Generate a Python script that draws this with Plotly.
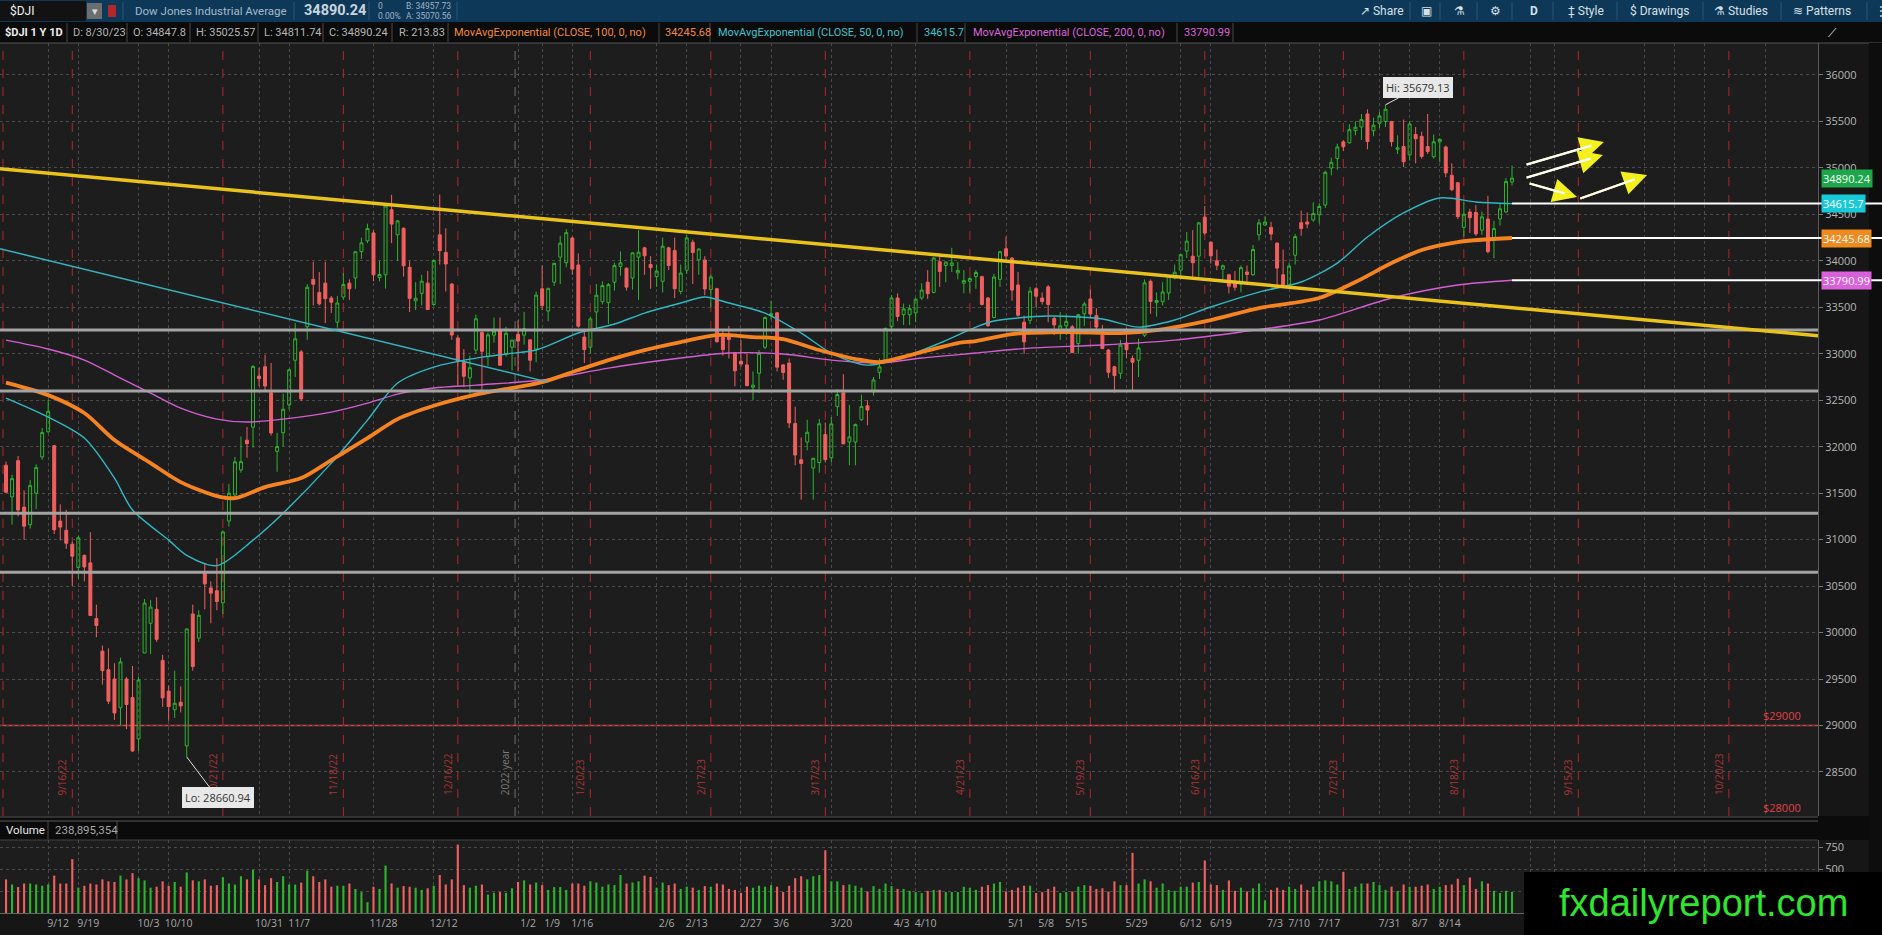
import pandas as pd
import plotly.graph_objects as go

# =========================
# DATA  ($DJI daily, 8/31/22 .. 8/30/23)
# =========================
HOLIDAYS = ["2022-09-05", "2022-11-24", "2022-12-26", "2023-01-02", "2023-01-16",
            "2023-02-20", "2023-04-07", "2023-05-29", "2023-06-19", "2023-07-04",
            "2023-09-04"]

dates = pd.bdate_range("2022-08-31", "2023-08-30", freq="C", holidays=HOLIDAYS)

opens = [
    31800,
    31460, 31850, 31350, 31160, 31500, 31890, 32160, 32010, 31200, 31100, 30950, 30700, 30830, 30750, 30150, 29800, 29600, 29500, 29190, 29500, 29300,
    28856, 29780, 30100, 30250, 29700, 29370, 29170, 29250, 28780, 30200, 29940, 30650, 30480, 30450, 30320, 31200, 31480, 31750, 32070, 32210, 32760,
    32860, 32580, 31950, 32150, 32450, 32930, 33020, 33290, 33800, 33660, 33760, 33600, 33340, 33610, 33760, 33815, 34100, 34215, 34300, 33820, 33850,
    34550, 34280, 34350, 33930, 33570, 33650, 33760, 33530, 34280, 34090, 33750, 33170, 32910, 32740, 33040, 33230, 32970, 33200, 33250, 33000, 33070,
    33210, 33200, 33150, 33050, 33700, 33460, 33770, 34040, 33980, 34245, 33955, 33180, 33070, 33450, 33560, 33550, 33770, 33940, 33920, 33815,
    34040, 34140, 33960, 33830, 33780, 34140, 34110, 33670, 33900, 34200, 34010, 34010, 33690, 33700, 33180, 33180, 33010, 32920, 32880,
    32640, 32790, 33070, 33410, 33440, 32880, 32900, 32250, 31860, 32050, 31770, 31830, 32130, 31880, 32430, 32580, 32050, 32050, 32290, 32440, 32590, 32800, 32930,
    33290, 33600, 33420, 33420, 33440, 33600, 33770, 33660, 33990, 33950, 33950, 33870, 33760, 33780, 33830, 33830, 33600, 33390, 33800,
    34130, 34030, 33740, 33340, 33360, 33700, 33600, 33720, 33380, 33260, 33300, 33290, 33110, 33430, 33590, 33410, 33200, 33040, 32860, 32790, 33115, 32950,
    32930, 33200, 33780, 33550, 33560, 33654, 33815, 33900, 34105, 34050, 34050, 34470, 34200, 34000, 33910, 33850, 33760, 33750, 33880, 33850, 34280,
    34385, 34360, 34190, 33850, 33740, 34060, 34410, 34418, 34440, 34495, 34600, 34999, 35100, 35280, 35270, 35400, 35440, 35580, 35400, 35480,
    35500, 35500, 35200, 35230, 35140, 35360, 35340, 35230, 35120, 35280, 35225, 34920, 34840, 34360, 34525, 34520, 34330, 34450, 34220, 34450, 34525, 34847.8,
]
highs = [
    31840,
    31700, 31900, 31530, 31640, 31810, 32200, 32505, 32020, 31380, 31320, 30980, 31040, 30840, 31080, 30300, 29860, 29830, 29670, 29730, 29520, 29640,
    29525, 30360, 30350, 30380, 29760, 29430, 29590, 29420, 30040, 30300, 30240, 30750, 30550, 30800, 31100, 31600, 31890, 32110, 32210, 32880, 32850,
    32990, 32900, 32150, 32570, 32840, 33330, 33040, 33750, 33990, 33880, 33990, 33620, 33620, 33870, 33800, 34100, 34250, 34400, 34330, 34000, 34600,
    34710, 34440, 34360, 34000, 33770, 33850, 33890, 34010, 34712, 34350, 33760, 33200, 33050, 32980, 33420, 33240, 33230, 33390, 33390, 33290, 33150,
    33360, 33450, 33150, 33670, 33950, 33710, 33980, 34270, 34340, 34260, 34080, 33250, 33400, 33750, 33780, 33760, 33980, 34100, 33930, 34090,
    34330, 34150, 34050, 33960, 34250, 34150, 34250, 33960, 34280, 34230, 34130, 34050, 33850, 33710, 33260, 33300, 33020, 33150, 33000,
    32810, 33040, 33400, 33570, 33450, 32890, 32950, 32430, 32100, 32290, 31880, 32300, 32260, 32320, 32620, 32780, 32450, 32250, 32560, 32500, 32750, 32950, 33280,
    33630, 33650, 33540, 33530, 33600, 33760, 33900, 34040, 34080, 33990, 34140, 33990, 33900, 33830, 33900, 33840, 33610, 33860, 34110,
    34260, 34040, 33880, 33410, 33720, 33720, 33660, 33740, 33400, 33450, 33420, 33310, 33430, 33560, 33690, 33490, 33310, 33050, 32870, 33150, 33280, 32980,
    33160, 33800, 33800, 33660, 33770, 33840, 33960, 34070, 34310, 34330, 34420, 34590, 34210, 34120, 33960, 33860, 33890, 33950, 33950, 34170, 34450,
    34480, 34420, 34200, 34120, 33980, 34290, 34540, 34520, 34630, 34620, 34970, 35110, 35260, 35300, 35470, 35500, 35580, 35630, 35540, 35600,
    35679.13, 35500, 35350, 35520, 35500, 35440, 35390, 35580, 35360, 35320, 35240, 35050, 34850, 34630, 34560, 34600, 34530, 34700, 34430, 34620, 34890, 35025.57,
]
lows = [
    31500,
    31160, 31250, 31000, 31120, 31330, 31860, 32150, 31060, 30990, 30900, 30500, 30580, 30550, 30180, 29950, 29440, 29230, 29060, 29000, 28960, 28715,
    28725, 29780, 29770, 29900, 29200, 29050, 29080, 29140, 28660.94, 29590, 29900, 30250, 30100, 30240, 30200, 31140, 31440, 31720, 31880, 31990, 32650,
    32600, 32120, 31730, 32000, 32400, 32750, 32490, 33150, 33520, 33520, 33330, 33440, 33280, 33580, 33580, 33700, 34020, 34190, 33780, 33780, 33700,
    34190, 34000, 33830, 33450, 33470, 33520, 33470, 33510, 33960, 33670, 33150, 32650, 32640, 32570, 33000, 32580, 32870, 33120, 32870, 32970, 32820,
    32810, 33100, 32810, 32910, 33470, 33350, 33730, 33750, 33930, 33850, 33280, 32900, 33000, 33250, 33530, 33320, 33680, 33840, 33680, 33690,
    33580, 33850, 33700, 33720, 33660, 33900, 33600, 33640, 33860, 33750, 33850, 33630, 33500, 33120, 32980, 32950, 32650, 32860, 32650,
    32500, 32580, 33050, 33370, 32810, 32720, 32200, 31800, 31430, 31960, 31430, 31720, 31830, 31830, 32330, 32030, 31800, 31800, 32280, 32230, 32550, 32730, 32920,
    33250, 33350, 33310, 33310, 33340, 33580, 33590, 33650, 33720, 33770, 33880, 33800, 33650, 33660, 33700, 33520, 33290, 33380, 33720,
    34010, 33570, 33400, 33000, 33320, 33500, 33530, 33340, 33200, 33150, 33200, 33010, 33000, 33300, 33380, 33250, 33050, 32740, 32580, 32730, 32950, 32590,
    32750, 33180, 33430, 33400, 33520, 33580, 33800, 33800, 34030, 33800, 33830, 34280, 33970, 33900, 33770, 33650, 33680, 33660, 33760, 33840, 34220,
    34380, 34220, 33700, 33730, 33710, 33960, 34270, 34350, 34420, 34400, 34570, 34920, 34980, 35180, 35260, 35350, 35300, 35200, 35340, 35430,
    35440, 35230, 35150, 35010, 35080, 35050, 35100, 35150, 35100, 35060, 34900, 34750, 34450, 34260, 34300, 34270, 34280, 34080, 34030, 34380, 34520, 34811.74,
]
closes = [
    31510,
    31656, 31318, 31145, 31581, 31775, 32152, 32381, 31105, 31135, 30961, 30822, 31020, 30706, 30184, 30077, 29590, 29261, 29135, 29684, 29226, 28726,
    29490, 30317, 30274, 29927, 29297, 29203, 29239, 29211, 30039, 29635, 30186, 30524, 30424, 30334, 31083, 31500, 31837, 31839, 32033, 32862, 32733,
    32653, 32148, 32001, 32403, 32827, 33161, 32514, 33715, 33748, 33537, 33593, 33554, 33546, 33746, 33700, 34098, 34194, 34347, 33849, 33853, 34590,
    34395, 34430, 33947, 33596, 33598, 33781, 33476, 34005, 34109, 33966, 33202, 32920, 32758, 32850, 33376, 33027, 33204, 33242, 32876, 33221, 33147,
    33136, 33270, 32930, 33631, 33518, 33704, 33973, 34190, 34303, 33911, 33297, 33045, 33375, 33630, 33734, 33744, 33949, 33978, 33717, 34086,
    34093, 34054, 33926, 33891, 34157, 33949, 33700, 33869, 34246, 34089, 34128, 33697, 33827, 33130, 33045, 33154, 32817, 32889, 32657,
    32662, 33004, 33391, 33431, 32856, 32798, 32255, 31910, 31819, 32155, 31875, 32247, 31862, 32245, 32561, 32030, 32105, 32238, 32432, 32394, 32718, 32859, 33274,
    33601, 33402, 33483, 33485, 33587, 33685, 33647, 34030, 33886, 33987, 33977, 33897, 33787, 33809, 33875, 33531, 33302, 33826, 34098,
    34052, 33685, 33414, 33128, 33674, 33619, 33562, 33531, 33310, 33301, 33349, 33012, 33421, 33536, 33427, 33287, 33056, 32800, 32765, 33093, 33043, 32908,
    33062, 33763, 33563, 33573, 33665, 33834, 33877, 34066, 34212, 33979, 34408, 34299, 34054, 33952, 33947, 33727, 33715, 33927, 33853, 34122, 34408,
    34418, 34289, 33922, 33735, 33944, 34261, 34347, 34395, 34509, 34585, 34952, 35061, 35225, 35228, 35411, 35438, 35520, 35283, 35459, 35560,
    35631, 35283, 35216, 35066, 35473, 35314, 35123, 35176, 35281, 35308, 34946, 34766, 34475, 34501, 34464, 34289, 34473, 34099, 34347, 34560, 34853, 34890.24,
]
# volume in millions of shares
volume = [
    382,
    324, 295, 335, 335, 324, 310, 324, 425, 335, 335, 612, 288, 310, 335, 324, 382, 360, 353, 425, 382, 454,
    396, 371, 288, 299, 360, 310, 353, 299, 461, 371, 360, 382, 310, 317, 407, 335, 324, 418, 382, 490, 382,
    317, 396, 353, 418, 324, 324, 346, 482, 418, 353, 382, 299, 310, 310, 335, 274, 238, 122, 299, 274, 540,
    335, 288, 306, 299, 288, 263, 281, 310, 432, 324, 382, 778, 317, 288, 310, 324, 209, 230, 238, 230, 281,
    353, 371, 324, 346, 317, 263, 295, 295, 263, 335, 335, 310, 360, 346, 299, 324, 317, 432, 335, 346,
    360, 425, 410, 288, 346, 317, 335, 274, 299, 288, 263, 306, 299, 335, 324, 274, 263, 230, 299,
    288, 310, 299, 317, 299, 238, 310, 396, 418, 382, 418, 432, 713, 360, 360, 317, 324, 310, 288, 245, 306, 274, 335,
    306, 274, 274, 252, 238, 227, 252, 263, 263, 238, 238, 238, 299, 288, 263, 299, 317, 335, 353,
    245, 263, 288, 310, 310, 227, 238, 274, 299, 227, 238, 245, 299, 317, 310, 274, 281, 245, 360, 317, 317, 684,
    335, 382, 360, 288, 335, 263, 252, 299, 299, 346, 353, 598, 324, 317, 263, 371, 252, 288, 245, 281, 335,
    144, 263, 288, 263, 299, 274, 324, 263, 299, 360, 371, 360, 324, 468, 274, 299, 335, 335, 353, 317,
    263, 299, 252, 324, 299, 299, 310, 324, 274, 299, 317, 324, 389, 317, 403, 274, 360, 335, 252, 227, 252, 238.9,
]
assert len(dates) == len(opens) == len(highs) == len(lows) == len(closes) == len(volume)

# moving averages
ema50_dates = ["2022-08-31", "2022-09-12", "2022-09-20", "2022-09-27", "2022-09-30", "2022-10-10",
               "2022-10-13", "2022-10-20", "2022-10-28", "2022-11-04", "2022-11-16", "2022-11-25",
               "2022-12-02", "2022-12-12", "2022-12-22", "2022-12-29", "2023-01-06", "2023-01-18",
               "2023-01-26", "2023-02-02", "2023-02-10", "2023-02-16", "2023-02-23", "2023-03-03",
               "2023-03-13", "2023-03-20", "2023-03-28", "2023-04-05", "2023-04-14", "2023-04-24",
               "2023-04-27", "2023-05-10", "2023-05-23", "2023-06-01", "2023-06-09", "2023-06-20",
               "2023-06-30", "2023-07-12", "2023-07-20", "2023-07-27", "2023-08-04", "2023-08-14",
               "2023-08-22", "2023-08-30"]
ema50_vals = [32523, 32319, 32093, 31662, 31318, 30995,
              30830, 30720, 30995, 31285, 31823, 32286,
              32685, 32857, 32964, 32997, 33040, 33223,
              33320, 33438, 33546, 33610, 33546, 33438,
              33223, 33008, 32878, 32964, 33115, 33287,
              33352, 33406, 33374, 33287, 33363, 33503,
              33664, 33772, 33976, 34256, 34515, 34676,
              34633, 34615.7]

ema100_dates = ["2022-08-31", "2022-09-12", "2022-09-20", "2022-09-27", "2022-10-05", "2022-10-12",
                "2022-10-20", "2022-10-25", "2022-11-01", "2022-11-09", "2022-11-16", "2022-11-25",
                "2022-12-02", "2022-12-12", "2022-12-21", "2023-01-09", "2023-01-18", "2023-01-25",
                "2023-02-02", "2023-02-10", "2023-02-21", "2023-03-01", "2023-03-08", "2023-03-16",
                "2023-03-24", "2023-03-30", "2023-04-11", "2023-04-19", "2023-04-24", "2023-05-02",
                "2023-05-15", "2023-05-26", "2023-06-06", "2023-06-20", "2023-06-30", "2023-07-17",
                "2023-07-25", "2023-08-02", "2023-08-09", "2023-08-17", "2023-08-30"]
ema100_vals = [32690, 32555, 32362, 32071, 31823, 31619,
               31468, 31447, 31565, 31662, 31856, 32093,
               32297, 32440, 32560, 32695, 32825, 32932,
               33040, 33126, 33201, 33180, 33158, 33040,
               32943, 32911, 33018, 33115, 33137, 33212,
               33234, 33223, 33255, 33363, 33492, 33600,
               33772, 33976, 34116, 34202, 34245.68]

ema200_dates = ["2022-08-31", "2022-09-12", "2022-09-20", "2022-09-27", "2022-10-05", "2022-10-12",
                "2022-10-20", "2022-10-27", "2022-11-04", "2022-11-16", "2022-11-25", "2022-12-02",
                "2022-12-12", "2022-12-21", "2023-01-09", "2023-01-25", "2023-02-10", "2023-02-23",
                "2023-03-08", "2023-03-20", "2023-03-30", "2023-04-11", "2023-04-24", "2023-05-05",
                "2023-05-23", "2023-06-09", "2023-06-27", "2023-07-17", "2023-08-02", "2023-08-17",
                "2023-08-30"]
ema200_vals = [33147, 33051, 32932, 32771, 32577, 32415,
               32297, 32265, 32297, 32372, 32469, 32566,
               32631, 32663, 32717, 32846, 32954, 33008,
               32997, 32932, 32900, 32954, 33008, 33061,
               33094, 33147, 33234, 33363, 33600, 33740,
               33790.99]

# hand drawings on the chart
yellow_trend_x = ["2022-08-30", "2023-11-09 19:00"]
yellow_trend_y = [34990, 33194]
cyan_trend_x = ["2022-08-30", "2023-01-10"]
cyan_trend_y = [34130, 32695]
grey_levels = [33255, 32600, 31285, 30650]
ray_levels = [34615.7, 34245.68, 33790.99]
arrow_tail_x = ["2023-09-01 04:00", "2023-09-01 04:00", "2023-09-01 16:00", "2023-09-15 02:00"]
arrow_tail_y = [35031, 34891, 34837, 34665]
arrow_head_x = ["2023-09-21 06:00", "2023-09-21 02:00", "2023-09-14 19:00", "2023-10-02 10:00"]
arrow_head_y = [35279, 35139, 34687, 34924]

expiry_dates = ["2022-09-16", "2022-10-21", "2022-11-18", "2022-12-16", "2023-01-20", "2023-02-17",
                "2023-03-17", "2023-04-21", "2023-05-19", "2023-06-16", "2023-07-21", "2023-08-18",
                "2023-09-15", "2023-10-20"]
expiry_labels = ["9/16/22", "10/21/22", "11/18/22", "12/16/22", "1/20/23", "2/17/23",
                 "3/17/23", "4/21/23", "5/19/23", "6/16/23", "7/21/23", "8/18/23",
                 "9/15/23", "10/20/23"]

tick_dates = ["2022-09-12", "2022-09-19", "2022-10-03", "2022-10-10", "2022-10-31", "2022-11-07",
              "2022-11-28", "2022-12-12", "2023-01-03", "2023-01-09", "2023-01-17", "2023-02-06",
              "2023-02-13", "2023-02-27", "2023-03-06", "2023-03-20", "2023-04-03", "2023-04-10",
              "2023-05-01", "2023-05-08", "2023-05-15", "2023-05-30", "2023-06-12", "2023-06-20",
              "2023-07-03", "2023-07-10", "2023-07-17", "2023-07-31", "2023-08-07", "2023-08-14",
              "2023-09-05", "2023-09-11", "2023-10-02", "2023-10-09", "2023-10-16", "2023-10-30"]
tick_text = ["9/12", "9/19", "10/3", "10/10", "10/31", "11/7",
             "11/28", "12/12", "1/2", "1/9", "1/16", "2/6",
             "2/13", "2/27", "3/6", "3/20", "4/3", "4/10",
             "5/1", "5/8", "5/15", "5/29", "6/12", "6/19",
             "7/3", "7/10", "7/17", "7/31", "8/7", "8/14",
             "", "", "", "", "", ""]

# =========================
# STYLE / LAYOUT HELPERS
# =========================
FIG_W, FIG_H = 1882, 935
PLOT_W = 1818
X_START, X_END = "2022-08-30", "2023-11-09 19:00"
PRICE_DOM = [1 - 816 / FIG_H, 1 - 43 / FIG_H]
VOL_DOM = [1 - 913 / FIG_H, 1 - 840 / FIG_H]

GREEN = "#2cb52c"
RED = "#f0605e"
GRID = "#4a4a4a"
FONT = "Open Sans, Roboto, sans-serif"
NARROW = "Roboto, sans-serif"

shapes = []
annotations = []


def px(x):
    return x / PLOT_W


def py(y):
    return 1 - y / FIG_H


def rect(x0, y0, x1, y1, color, layer="below"):
    shapes.append(dict(type="rect", xref="paper", yref="paper", x0=px(x0), x1=px(x1),
                       y0=py(y1), y1=py(y0), fillcolor=color, line_width=0, layer=layer))


def sep(x, y0, y1, color):
    shapes.append(dict(type="line", xref="paper", yref="paper", x0=px(x), x1=px(x),
                       y0=py(y0), y1=py(y1), line=dict(color=color, width=1), layer="below"))


def hline(y, x0, x1, color, width=1):
    shapes.append(dict(type="line", xref="paper", yref="paper", x0=px(x0), x1=px(x1),
                       y0=py(y), y1=py(y), line=dict(color=color, width=width), layer="below"))


def label(x, y, s, size=12, color="#cccccc", family=FONT, anchor="left"):
    annotations.append(dict(xref="paper", yref="paper", x=px(x), y=py(y), text=s, showarrow=False,
                            xanchor=anchor, yanchor="middle",
                            font=dict(size=size, color=color, family=family)))


def fmt(v):
    return f"{v:.2f}".rstrip("0").rstrip(".")


# =========================
# FIGURE
# =========================
fig = go.Figure()

fig.add_trace(go.Candlestick(
    x=dates, open=opens, high=highs, low=lows, close=closes,
    increasing=dict(line=dict(color=GREEN, width=1), fillcolor="rgba(0,0,0,0)"),
    decreasing=dict(line=dict(color=RED, width=1), fillcolor=RED),
    whiskerwidth=0, hoverinfo="skip", showlegend=False, xaxis="x", yaxis="y"))

for xs, ys, color, width in [(ema200_dates, ema200_vals, "#d25fd2", 1.4),
                             (ema50_dates, ema50_vals, "#2fb8c4", 1.4),
                             (ema100_dates, ema100_vals, "#f5831f", 3.8)]:
    fig.add_trace(go.Scatter(x=xs, y=ys, mode="lines", hoverinfo="skip", showlegend=False,
                             line=dict(color=color, width=width, shape="spline", smoothing=0.8),
                             xaxis="x", yaxis="y"))

vol_colors = [GREEN if c >= o else RED for o, c in zip(opens, closes)]
fig.add_trace(go.Bar(x=dates, y=volume, marker=dict(color=vol_colors, line_width=0),
                     width=0.35 * 86400000, hoverinfo="skip", showlegend=False,
                     xaxis="x2", yaxis="y2"))

# ---- chart drawings ----
for d in expiry_dates:
    shapes.append(dict(type="line", xref="x", yref="paper", x0=d, x1=d, y0=PRICE_DOM[0], y1=PRICE_DOM[1],
                       line=dict(color="#b3262b", width=1, dash="dash"), layer="between"))
for d, t in zip(expiry_dates, expiry_labels):
    annotations.append(dict(x=d, y=28228, xref="x", yref="y", text=t, textangle=-90, showarrow=False,
                            xanchor="right", yanchor="bottom", xshift=-1,
                            font=dict(size=10, color="#a8353a", family=FONT)))
shapes.append(dict(type="line", xref="x", yref="paper", x0="2022-08-30 12:00", x1="2022-08-30 12:00",
                   y0=PRICE_DOM[0], y1=PRICE_DOM[1], line=dict(color="#b3262b", width=1, dash="dash"),
                   layer="between"))
shapes.append(dict(type="line", xref="x", yref="paper", x0="2022-12-30 12:00", x1="2022-12-30 12:00",
                   y0=PRICE_DOM[0], y1=PRICE_DOM[1], line=dict(color="#6e6e6e", width=1, dash="dash"),
                   layer="between"))
annotations.append(dict(x="2022-12-30 12:00", y=28228, xref="x", yref="y", text="2022 year", textangle=-90,
                        showarrow=False, xanchor="right", yanchor="bottom", xshift=-1,
                        font=dict(size=10, color="#7a7a7a", family=FONT)))

shapes.append(dict(type="line", xref="paper", yref="y", x0=0, x1=1, y0=29000, y1=29000,
                   line=dict(color="#e0404a", width=1.5), layer="between"))
for lvl in grey_levels:
    shapes.append(dict(type="line", xref="paper", yref="y", x0=0, x1=1, y0=lvl, y1=lvl,
                       line=dict(color="#a3a3a3", width=3), layer="above"))
shapes.append(dict(type="line", xref="x", yref="y", x0=cyan_trend_x[0], x1=cyan_trend_x[1],
                   y0=cyan_trend_y[0], y1=cyan_trend_y[1], line=dict(color="#36b3bf", width=1.5),
                   layer="above"))
shapes.append(dict(type="line", xref="x", yref="y", x0=yellow_trend_x[0], x1=yellow_trend_x[1],
                   y0=yellow_trend_y[0], y1=yellow_trend_y[1], line=dict(color="#e9c21c", width=3.5),
                   layer="above"))
for lvl in ray_levels:
    shapes.append(dict(type="line", xref="x", yref="y", x0=dates[-1], x1=X_END, y0=lvl, y1=lvl,
                       line=dict(color="#ffffff", width=2), layer="above"))
    # the rays run on across the price scale to the window edge
    shapes.append(dict(type="line", xref="paper", yref="y", x0=1, x1=px(FIG_W), y0=lvl, y1=lvl,
                       line=dict(color="#ffffff", width=2), layer="above"))

for tx, ty, hx, hy in zip(arrow_tail_x, arrow_tail_y, arrow_head_x, arrow_head_y):
    annotations.append(dict(x=hx, y=hy, ax=tx, ay=ty, xref="x", yref="y", axref="x", ayref="y",
                            text="", showarrow=True, arrowhead=2, arrowsize=2.4, arrowwidth=2,
                            arrowcolor="#f4f01e"))
    annotations.append(dict(x=hx, y=hy, ax=tx, ay=ty, xref="x", yref="y", axref="x", ayref="y",
                            text="", showarrow=True, arrowhead=0, arrowwidth=2.2, standoff=13,
                            arrowcolor="#ffffff"))

i_hi = highs.index(max(highs))
i_lo = lows.index(min(lows))
annotations.append(dict(x=dates[i_hi], y=highs[i_hi], xref="x", yref="y", text=f"Hi: {highs[i_hi]:.2f}",
                        showarrow=True, arrowhead=0, arrowcolor="#dddddd", arrowwidth=1, ax=32, ay=-17,
                        bgcolor="#e8e8e8", bordercolor="#e8e8e8", borderpad=2,
                        font=dict(size=11, color="#333333", family=FONT)))
annotations.append(dict(x=dates[i_lo], y=lows[i_lo], xref="x", yref="y", text=f"Lo: {lows[i_lo]:.2f}",
                        showarrow=True, arrowhead=0, arrowcolor="#dddddd", arrowwidth=1, ax=31, ay=41,
                        bgcolor="#e8e8e8", bordercolor="#e8e8e8", borderpad=2,
                        font=dict(size=11, color="#333333", family=FONT)))

annotations.append(dict(x=px(1803), y=29000, xref="paper", yref="y", text="$29000", showarrow=False,
                        xanchor="right", yanchor="bottom", font=dict(size=11, color="#e0404a", family=FONT)))
annotations.append(dict(x=px(1803), y=28120, xref="paper", yref="y", text="$28000", showarrow=False,
                        xanchor="right", yanchor="middle", font=dict(size=11, color="#e0404a", family=FONT)))

# price tags on the right axis
for val, color in [(closes[-1], "#1ca84a"), (ema50_vals[-1], "#18cad8"),
                   (ema100_vals[-1], "#ef8a1f"), (ema200_vals[-1], "#da5fda")]:
    annotations.append(dict(x=px(1821), y=val, xref="paper", yref="y", text=fmt(val), showarrow=False,
                            xanchor="left", yanchor="middle", bgcolor=color, borderpad=1,
                            font=dict(size=11, color="#ffffff", family=FONT)))

# ---- top toolbar ----
rect(0, 0, FIG_W, 22, "#0e3858")
rect(0, 1, 86, 21, "#121212")
rect(87, 3, 102, 19, "#6d6d6d")
rect(108, 5, 116, 17, "#b3262b")
label(8, 11, "$DJI", 12, "#f0f0f0", family=NARROW)
label(94.5, 11, "▾", 11, "#dddddd", anchor="center")
label(133, 11, "Dow Jones Industrial Average", 11.5, "#a4b8c9", family=NARROW)
label(302, 11, "<b>34890.24</b>", 14.5, "#c8d5df", family=NARROW)
label(376, 6, "0", 8.5, "#9fb2c3", family=NARROW)
label(376, 16, "0.00%", 8.5, "#9fb2c3", family=NARROW)
label(404, 6, "B: 34957.73", 8.5, "#9fb2c3", family=NARROW)
label(404, 16, "A: 35070.56", 8.5, "#9fb2c3", family=NARROW)
for x in [123, 294, 369, 457, 1410, 1440, 1477, 1512, 1553, 1617, 1703, 1781, 1867]:
    sep(x, 2, 20, "#265577")
for x, s in [(1358, "↗ Share"), (1419, "▣"), (1452, "⚗"), (1488, "⚙"), (1528, "<b>D</b>"),
             (1566, "‡ Style"), (1628, "$ Drawings"), (1712, "⚗ Studies"), (1791, "≋ Patterns"), (1873, "⋮")]:
    label(x, 11, s, 12, "#d6e0e8", family=NARROW)

# ---- study header row ----
rect(0, 22, FIG_W, 43, "#0b0b0b")
hline(43, 0, FIG_W, "#555555")
header_items = [(3, "<b>$DJI 1 Y 1D</b>", "#eeeeee"), (71, "D: 8/30/23", "#b4b4b4"),
                (131, "O: 34847.8", "#b4b4b4"), (194, "H: 35025.57", "#b4b4b4"),
                (262, "L: 34811.74", "#b4b4b4"), (327, "C: 34890.24", "#b4b4b4"),
                (397, "R: 213.83", "#b4b4b4"),
                (452, "MovAvgExponential (CLOSE, 100, 0, no)", "#f08a3a"), (663, "34245.68", "#f08a3a"),
                (716, "MovAvgExponential (CLOSE, 50, 0, no)", "#3cc5d0"), (922, "34615.7", "#3cc5d0"),
                (971, "MovAvgExponential (CLOSE, 200, 0, no)", "#d864d8"), (1182, "33790.99", "#d864d8")]
for x, s, c in header_items:
    label(x, 32.5, s, 11, c, family=NARROW)
for x in [67, 127, 190, 258, 323, 392, 448, 659, 710, 917, 965, 1177, 1233]:
    sep(x, 23, 42, "#4a4a4a")
label(1832, 33, "⟋", 12, "#dddddd", family="DejaVu Sans", anchor="center")

# ---- volume header band ----
rect(0, 816, FIG_W, 840, "#0b0b0b")
hline(817, 0, PLOT_W, "#5a5a5a")
hline(821, 0, PLOT_W, "#5a5a5a")
hline(840, 0, PLOT_W, "#444444")
label(4, 830, "Volume", 11.5, "#e6e6e6", family=NARROW)
label(53, 830, "238,895,354", 11.5, "#a8a8a8", family=NARROW)
sep(48, 821, 839, "#4a4a4a")
sep(117, 821, 839, "#4a4a4a")

# right-hand strip
rect(1869, 43, FIG_W, 872, "#0d0d0d")

# ---- watermark ----
rect(1524, 872, FIG_W, FIG_H, "#000000", layer="above")
label(1703, 903, "fxdailyreport.com", 38, "#2ee62e", family="Liberation Sans, Arial, sans-serif",
      anchor="center")

breaks = [dict(bounds=["sat", "mon"]), dict(values=HOLIDAYS)]
xcommon = dict(type="date", range=[X_START, X_END], rangebreaks=breaks, tickvals=tick_dates,
               showgrid=True, gridcolor=GRID, griddash="dot", gridwidth=1, zeroline=False,
               rangeslider=dict(visible=False), fixedrange=True)
ycommon = dict(side="right", showgrid=True, gridcolor=GRID, griddash="dot", zeroline=False,
               ticks="outside", ticklen=4, tickcolor="#777777", showline=True, linecolor="#5a5a5a",
               tickformat="d", tickfont=dict(size=11, color="#b5b5b5", family=FONT), fixedrange=True)

fig.update_layout(
    width=FIG_W, height=FIG_H,
    margin=dict(l=0, r=FIG_W - PLOT_W, t=0, b=0),
    paper_bgcolor="#161616", plot_bgcolor="#1d1d1d",
    showlegend=False, hovermode=False, dragmode=False,
    xaxis=dict(anchor="y", domain=[0, 1], showticklabels=False, **xcommon),
    xaxis2=dict(anchor="y2", domain=[0, 1], ticktext=tick_text, ticks="", showline=True,
                linecolor="#666666", ticklabelshift=10,
                tickfont=dict(size=10.5, color="#a8a8a8", family=FONT), **xcommon),
    yaxis=dict(anchor="x", domain=PRICE_DOM, range=[28026, 36344], dtick=500, tick0=0, **ycommon),
    yaxis2=dict(anchor="x2", domain=VOL_DOM, range=[0, 830], tickvals=[250, 500, 750], **ycommon),
    shapes=shapes,
    annotations=annotations,
)

fig.write_html("out.html", config={"displayModeBar": False},
               post_script="document.body.style.margin='0';document.body.style.overflow='hidden';")
